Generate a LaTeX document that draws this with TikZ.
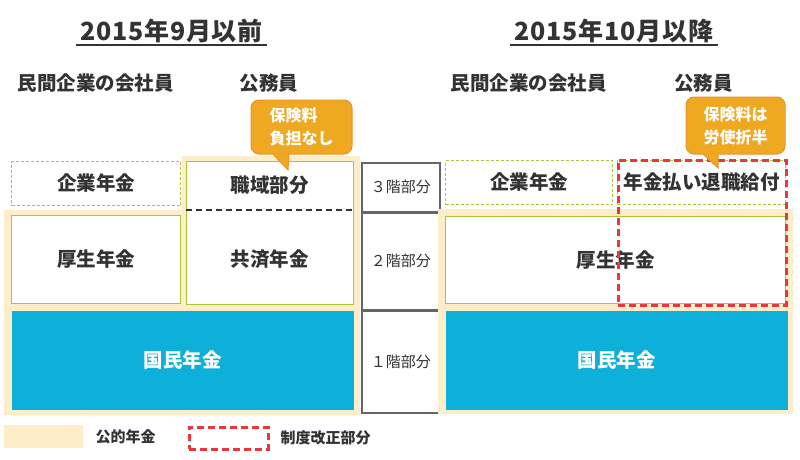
\documentclass[tikz,border=0pt]{standalone}
\usepackage{fontspec}
\setmainfont{Noto Sans CJK JP}
\usetikzlibrary{positioning}
\usetikzlibrary{calc}

\definecolor{pubbeige}{HTML}{FDEDC9}
\definecolor{nengreen}{HTML}{A9C63C}
\definecolor{kokublue}{HTML}{0DB0D8}
\definecolor{kaiseired}{HTML}{E8383D}
\definecolor{calloutfill}{HTML}{EFA822}
\definecolor{calloutedge}{HTML}{E9932C}
\definecolor{txtgray}{HTML}{333333}
\definecolor{linegray}{HTML}{666666}

\tikzset{
  box/.style={draw=nengreen, line width=1pt, fill=white, inner sep=0pt,
    anchor=north west, text=txtgray, font=\bfseries\fontsize{19.5}{21}\selectfont},
  dashbox/.style={box, dash pattern=on 3pt off 2pt},
  kokubox/.style={box, draw=none, fill=kokublue, text=white},
  levelbox/.style={draw=linegray, line width=1.5pt, fill=white, inner sep=0pt,
    minimum width=78, text=txtgray, font=\fontsize{15}{17}\selectfont},
  kaiseibox/.style={draw=kaiseired, line width=2.5pt, dash pattern=on 7pt off 4pt,
    inner sep=0pt, anchor=north west},
  title/.style={text=txtgray, inner sep=0pt, anchor=base,
    font=\bfseries\fontsize{25}{27}\selectfont\addfontfeature{LetterSpace=3}},
  grouplabel/.style={text=txtgray, inner sep=0pt,
    font=\bfseries\fontsize{19.5}{21}\selectfont},
  callout/.style={fill=calloutfill, draw=calloutedge, line width=1pt,
    rounded corners=8pt, text=white, align=left, inner sep=0pt,
    font=\bfseries\fontsize{16}{23}\selectfont},
  legendtext/.style={text=txtgray, inner sep=0pt,
    font=\bfseries\fontsize{15}{17}\selectfont}
}

\begin{document}
\begin{tikzpicture}[x=1pt,y=-1pt]
\useasboundingbox (0,0) rectangle (800,460);

% titles
\node[title, minimum width=191] (titleL) at (171.5,41) {2015年9月以前};
\node[title, minimum width=208] (titleR) at (614,41) {2015年10月以降};
\draw[txtgray, line width=1.5pt] ($(titleL.base west)+(0,4)$) -- ($(titleL.base east)+(0,4)$);
\draw[txtgray, line width=1.5pt] ($(titleR.base west)+(0,4)$) -- ($(titleR.base east)+(0,4)$);

\node[grouplabel] (minkanL) at (95.5,83) {民間企業の会社員};
\node[grouplabel] (komuinL) at (269,83) {公務員};
\node[grouplabel] (minkanR) at (528.5,83) {民間企業の会社員};
\node[grouplabel] (komuinR) at (703.5,83) {公務員};

% left: before
\fill[pubbeige] (4,210) -- (182,210) -- (182,156) -- (360,156) -- (360,415) -- (4,415) -- cycle;
\node[dashbox, minimum width=169, minimum height=44] (kigyoL) at (11,161) {企業年金};
\node[box, minimum width=167, minimum height=143] (kyosaiBox) at (186,161) {};
\draw[txtgray, line width=1.5pt, dash pattern=on 6pt off 4pt]
  ($(kyosaiBox.north west)+(0,49)$) -- ($(kyosaiBox.north east)+(0,49)$);
\node[box, draw=none, fill=none, anchor=center] (shokuiki) at (269.5,185) {職域部分};
\node[box, draw=none, fill=none, anchor=center] (kyosai) at (269.5,259) {共済年金};
\node[box, minimum width=169, minimum height=88] (koseiL) at (11,215) {厚生年金};
\node[kokubox, minimum width=342, minimum height=99] (kokuminL) at (11,310) {国民年金};

% middle: levels
\node[levelbox, minimum height=49, anchor=north west] (level3) at (361,162) {３階部分};
\node[levelbox, minimum height=96, anchor=north] (level2) at (level3.south) {２階部分};
\node[levelbox, minimum height=102, anchor=north] (level1) at (level2.south) {１階部分};

% right: after
\fill[pubbeige] (438,209) rectangle (793,414);
\node[dashbox, minimum width=167, minimum height=44] (kigyoR) at (445,160) {企業年金};
\node[dashbox, minimum width=168, minimum height=44] (taishoku) at (617,160) {年金払い退職給付};
\node[box, minimum width=340, minimum height=87] (koseiR) at (445,216) {厚生年金};
\node[kokubox, minimum width=342, minimum height=99] (kokuminR) at (445,310) {国民年金};
\node[kaiseibox, minimum width=168, minimum height=145] (kaisei) at (617,159) {};

% callouts
\node[callout, minimum width=101, minimum height=54] (calloutL) at (301.5,127) {保険料\\負担なし};
\coordinate (tipL) at (288,170);
\path[fill=calloutfill, draw=calloutedge, line width=1pt]
  ($(calloutL.south)+(-28.5,-0.5)$) -- (tipL) -- ($(calloutL.south)+(-12.5,-0.5)$);
\node[callout, minimum width=99, minimum height=57] (calloutR) at (735.5,125.5) {保険料は\\労使折半};
\coordinate (tipR) at (718,168);
\path[fill=calloutfill, draw=calloutedge, line width=1pt]
  ($(calloutR.south)+(-32.5,-0.5)$) -- (tipR) -- ($(calloutR.south)+(-17.5,-0.5)$);

% legend
\node[fill=pubbeige, inner sep=0pt, minimum width=79, minimum height=23, anchor=north west] (legPub) at (4,425) {};
\node[legendtext, right=12pt of legPub] (legPubText) {公的年金};
\node[kaiseibox, minimum width=79, minimum height=22] (legKaisei) at (188,426) {};
\node[legendtext, right=11pt of legKaisei] (legKaiseiText) {制度改正部分};

\end{tikzpicture}
\end{document}
